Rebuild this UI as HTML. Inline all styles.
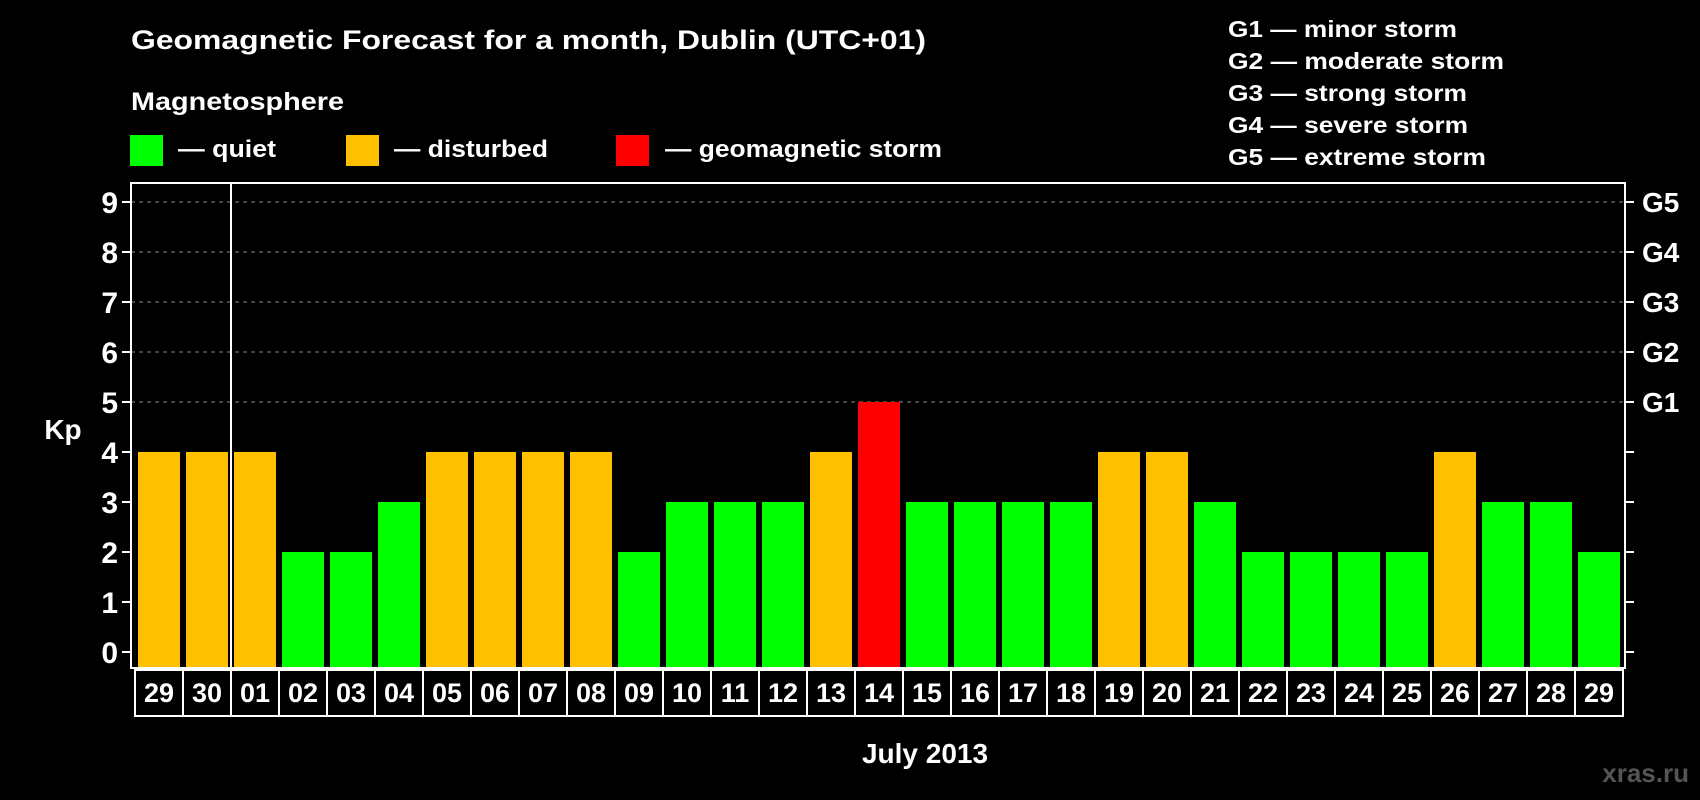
<!DOCTYPE html>
<html><head><meta charset="utf-8"><style>
html,body{margin:0;padding:0;background:#000;}
svg{display:block;font-family:"Liberation Sans",Arial,sans-serif;font-weight:bold;}
</style></head><body>
<svg id="chart" width="1700" height="800" viewBox="0 0 1700 800">
<rect x="0" y="0" width="1700" height="800" fill="#000"/>
<text x="131" y="49" fill="#fff" font-size="27" textLength="795" lengthAdjust="spacingAndGlyphs">Geomagnetic Forecast for a month, Dublin (UTC+01)</text>
<text x="131" y="110" fill="#fff" font-size="25" textLength="213" lengthAdjust="spacingAndGlyphs">Magnetosphere</text>
<g>
<rect x="130" y="135" width="33" height="31" fill="#00ff00"/>
<text x="178" y="157" fill="#fff" font-size="24" textLength="98" lengthAdjust="spacingAndGlyphs">— quiet</text></g>
<g>
<rect x="346" y="135" width="33" height="31" fill="#ffc000"/>
<text x="394" y="157" fill="#fff" font-size="24" textLength="154" lengthAdjust="spacingAndGlyphs">— disturbed</text></g>
<g>
<rect x="616" y="135" width="33" height="31" fill="#ff0000"/>
<text x="665" y="157" fill="#fff" font-size="24" textLength="277" lengthAdjust="spacingAndGlyphs">— geomagnetic storm</text></g>
<g fill="#fff" font-size="23">
<text x="1228" y="37" textLength="229" lengthAdjust="spacingAndGlyphs">G1 — minor storm</text>
<text x="1228" y="69" textLength="276" lengthAdjust="spacingAndGlyphs">G2 — moderate storm</text>
<text x="1228" y="101" textLength="239" lengthAdjust="spacingAndGlyphs">G3 — strong storm</text>
<text x="1228" y="133" textLength="240" lengthAdjust="spacingAndGlyphs">G4 — severe storm</text>
<text x="1228" y="165" textLength="258" lengthAdjust="spacingAndGlyphs">G5 — extreme storm</text>
</g>
<text x="63" y="439" fill="#fff" font-size="28" text-anchor="middle">Kp</text>
<text x="925" y="763" fill="#fff" font-size="28" text-anchor="middle">July 2013</text>
<text x="1689" y="782" fill="#555" font-size="26" text-anchor="end">xras.ru</text>
<g id="grid"></g><g id="bars"></g><g id="axes"></g><g id="labels"></g>
</svg>
<script>
const days = ["29","30","01","02","03","04","05","06","07","08","09","10","11","12","13","14","15","16","17","18","19","20","21","22","23","24","25","26","27","28","29"];
const kpValues = [4,4,4,2,2,3,4,4,4,4,2,3,3,3,4,5,3,3,3,3,4,4,3,2,2,2,2,4,3,3,2];
const yTicks = [0,1,2,3,4,5,6,7,8,9];
const gLabels = ["G1","G2","G3","G4","G5"];
const gLevels = [5,6,7,8,9];

const NS="http://www.w3.org/2000/svg";
const L=131,R=1625,T=183,B=668;
function yScale(v){return 652-(652-202)*v/9;}
function xScale(i){return 135+48*i;}
function mk(tag,attrs,parent){const e=document.createElementNS(NS,tag);for(const k in attrs)e.setAttribute(k,attrs[k]);parent.appendChild(e);return e;}
const grid=document.getElementById('grid'),bars=document.getElementById('bars'),axes=document.getElementById('axes'),labels=document.getElementById('labels');
gLevels.forEach((v,i)=>{
  const ln=mk('line',{x1:L,x2:R,y1:yScale(v),y2:yScale(v),stroke:'#888','stroke-width':1,'stroke-dasharray':'4,4'},grid);
  
  
  const t=mk('text',{x:R+17,y:yScale(v)+10,fill:'#fff','font-size':28},labels);
  t.textContent=gLabels[i];
  
  
});
kpValues.forEach((v,i)=>{
  const col=v>=5?'#ff0000':(v>=4?'#ffc000':'#00ff00');
  const r=mk('rect',{x:xScale(i)+3,y:yScale(v),width:42,height:B-yScale(v),fill:col},bars);
  
  
});
const frame=mk('rect',{x:L,y:T,width:R-L,height:B-T,fill:'none',stroke:'#fff','stroke-width':2},axes);


const ml=mk('line',{x1:xScale(2),x2:xScale(2),y1:T,y2:716,stroke:'#fff','stroke-width':2},axes);


yTicks.forEach(v=>{
  const y=yScale(v);
  mk('line',{x1:L-9,x2:L,y1:y,y2:y,stroke:'#fff','stroke-width':2},axes);
  mk('line',{x1:R,x2:R+9,y1:y,y2:y,stroke:'#fff','stroke-width':2},axes);
  const t=mk('text',{x:L-13,y:y+11,fill:'#fff','font-size':30,'text-anchor':'end'},labels);
  t.textContent=v;
  
  
});
days.forEach((d,i)=>{
  const c=mk('rect',{x:xScale(i),y:670,width:48,height:46,fill:'none',stroke:'#fff','stroke-width':2},axes);
  
  
  const t=mk('text',{x:xScale(i)+24,y:702,fill:'#fff','font-size':27,'text-anchor':'middle'},labels);
  t.textContent=d;
  
  
});
</script>
</body></html>
